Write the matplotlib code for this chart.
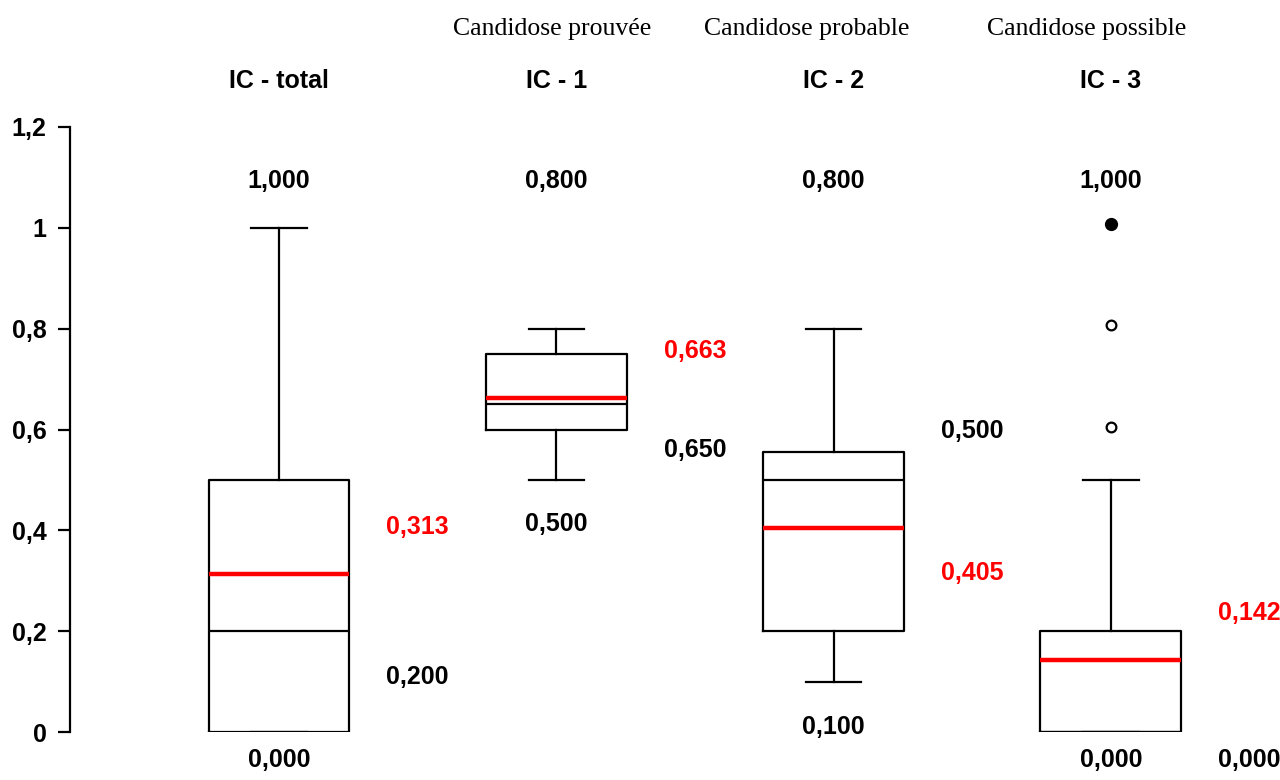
import matplotlib
matplotlib.use("Agg")
import matplotlib.pyplot as plt

# ---- data ----
groups = ["IC - total", "IC - 1", "IC - 2", "IC - 3"]
subtitles = ["", "Candidose prouvée", "Candidose probable", "Candidose possible"]
q1 = [0.0, 0.6, 0.2, 0.0]
med = [0.2, 0.65, 0.5, 0.0]
q3 = [0.5, 0.75, 0.555, 0.2]
wlo = [0.0, 0.5, 0.1, 0.0]
whi = [1.0, 0.8, 0.8, 0.5]
means = [0.313, 0.663, 0.405, 0.142]
outliers_open = [[], [], [], [0.605, 0.807]]
outliers_filled = [[], [], [], [1.007]]

# printed labels per group
top_lbl = ["1,000", "0,800", "0,800", "1,000"]
bot_lbl = ["0,000", "0,500", "0,100", "0,000"]
mean_lbl = ["0,313", "0,663", "0,405", "0,142"]
side_lbl = ["0,200", "0,650", "0,500", "0,000"]

NARROW = ["Liberation Sans Narrow", "Liberation Sans", "DejaVu Sans"]
SERIF = ["Liberation Serif", "DejaVu Serif"]

fig = plt.figure(figsize=(12.8, 7.8), dpi=100)
ax = fig.add_axes([70 / 1280, 1 - 732 / 780, 1 - 70 / 1280, (732 - 127) / 780])

pos = [1, 2, 3, 4]
stats = []
for i in range(4):
    stats.append(dict(med=med[i], q1=q1[i], q3=q3[i], whislo=wlo[i], whishi=whi[i],
                      mean=means[i], fliers=[]))

ax.bxp(stats, positions=pos, widths=0.508, showmeans=True, meanline=True,
       showfliers=False, patch_artist=False,
       boxprops=dict(color="black", linewidth=1.6),
       medianprops=dict(color="black", linewidth=1.6),
       whiskerprops=dict(color="black", linewidth=1.6),
       capprops=dict(color="black", linewidth=1.6),
       meanprops=dict(color="red", linestyle="-", linewidth=3.2),
       capwidths=0.2)

for i, p in enumerate(pos):
    if outliers_open[i]:
        ax.plot([p] * len(outliers_open[i]), outliers_open[i], "o", mfc="white",
                mec="black", ms=7, mew=1.6, clip_on=False)
    if outliers_filled[i]:
        ax.plot([p] * len(outliers_filled[i]), outliers_filled[i], "o", mfc="black",
                mec="black", ms=8.5, clip_on=False)

ax.set_xlim(0.246, 4.61)
ax.set_ylim(0, 1.2)
ax.set_yticks([0, 0.2, 0.4, 0.6, 0.8, 1.0, 1.2])
ax.set_yticklabels(["0", "0,2", "0,4", "0,6", "0,8", "1", "1,2"],
                   fontfamily=NARROW, fontweight="bold", fontsize=18)
ax.tick_params(axis="y", direction="out", length=9, width=1.6, pad=8)
ax.set_xticks([])
for s in ["top", "right", "bottom"]:
    ax.spines[s].set_visible(False)
ax.spines["left"].set_linewidth(1.6)

lbl = dict(fontfamily=NARROW, fontweight="bold", fontsize=18, ha="center",
           va="center", clip_on=False)
bot_y = [-0.056, 0.413, 0.01, -0.056]
for i, p in enumerate(pos):
    ax.text(p, 1.292, groups[i], **lbl)
    ax.text(p, 1.093, top_lbl[i], **lbl)
    ax.text(p, bot_y[i], bot_lbl[i], **lbl)

# side labels to the right of each box
mean_y = [0.407, 0.756, 0.315, 0.236]
side_y = [0.109, 0.559, 0.597, -0.056]
for i, p in enumerate(pos):
    ax.text(p + 0.5, mean_y[i], mean_lbl[i], color="red", **lbl)
    ax.text(p + 0.5, side_y[i], side_lbl[i], **lbl)

sub_x = [0, 1.984, 2.904, 3.912]
for i in range(1, 4):
    ax.text(sub_x[i], 1.394, subtitles[i], fontfamily=SERIF, fontsize=18.5,
            ha="center", va="center", clip_on=False)

fig.savefig("out.png", dpi=100)
